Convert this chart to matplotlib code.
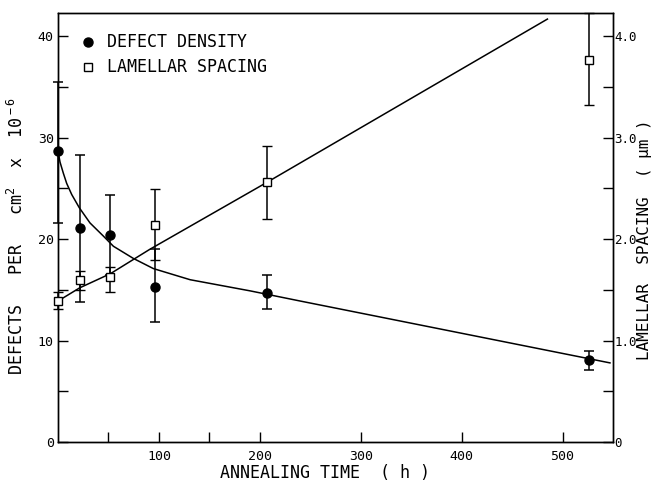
import matplotlib
matplotlib.use("Agg")
import matplotlib.pyplot as plt
from matplotlib.ticker import MultipleLocator, FixedLocator

plt.rcParams['font.family'] = ['DejaVu Sans Mono', 'DejaVu Sans']
plt.rcParams['mathtext.fontset'] = 'custom'
plt.rcParams['mathtext.rm'] = 'DejaVu Sans Mono'
plt.rcParams['mathtext.it'] = 'DejaVu Sans Mono'

# Defect density (left axis, x10^6 per cm^2)
defect_time = [0, 21.5, 52, 96, 207, 526]
defect_val = [28.7, 21.1, 20.4, 15.3, 14.7, 8.1]
defect_lo = [21.6, 13.8, 16.5, 11.8, 13.1, 7.1]
defect_hi = [35.5, 28.3, 24.4, 19.0, 16.5, 9.0]

# Lamellar spacing (right axis, um)
lam_time = [0, 21.5, 52, 96, 207, 526]
lam_val = [1.39, 1.60, 1.63, 2.14, 2.56, 3.77]
lam_lo = [1.31, 1.50, 1.48, 1.79, 2.20, 3.32]
lam_hi = [1.48, 1.69, 1.73, 2.49, 2.92, 4.23]

# Hand-drawn fit curves
defect_fit_t = [0, 2, 5.3, 8.6, 13.6, 21.1, 31.7, 45, 54.9, 74.7, 94.5, 121, 131, 190.5, 240, 547]
defect_fit_y = [28.7, 27.6, 26.5, 25.5, 24.4, 23.1, 21.6, 20.3, 19.3, 18.1, 17.1, 16.3, 16.0, 14.9, 13.9, 7.8]
lam_fit_t = [0, 21.5, 52, 91, 207, 485]
lam_fit_y = [1.39, 1.52, 1.66, 1.90, 2.56, 4.17]

x_ticks = [100, 200, 300, 400, 500]
left_ticks = [0, 10, 20, 30, 40]
right_ticks = [0, 1.0, 2.0, 3.0, 4.0]
right_labels = ['0', '1.0', '2.0', '3.0', '4.0']

fig = plt.figure(figsize=(6.57, 4.82), dpi=100)
ax = fig.add_axes([58/657, 40/482, 555/657, 429/482])
ax2 = ax.twinx()

ax.set_xlim(0, 550)
ax.set_ylim(0, 42.3)
ax2.set_ylim(0, 4.23)

lw = 1.1
ax.plot(defect_fit_t, defect_fit_y, color='black', lw=lw, zorder=2)
ax2.plot(lam_fit_t, lam_fit_y, color='black', lw=lw, zorder=2)

yerr_d = [[v - l for v, l in zip(defect_val, defect_lo)], [h - v for v, h in zip(defect_val, defect_hi)]]
ax.errorbar(defect_time, defect_val, yerr=yerr_d, fmt='o', color='black', ms=6.5,
            capsize=3.5, elinewidth=1.1, capthick=1.1, zorder=3, clip_on=False)
yerr_l = [[v - l for v, l in zip(lam_val, lam_lo)], [h - v for v, h in zip(lam_val, lam_hi)]]
ax2.errorbar(lam_time, lam_val, yerr=yerr_l, fmt='s', color='black', mfc='white', mec='black',
             mew=1.0, ms=6, capsize=3.5, elinewidth=1.1, capthick=1.1, zorder=4, clip_on=False)

# ticks
ax.xaxis.set_major_locator(FixedLocator(x_ticks))
ax.xaxis.set_minor_locator(FixedLocator([50, 150]))
ax.yaxis.set_major_locator(FixedLocator(left_ticks))
ax.yaxis.set_minor_locator(MultipleLocator(5))
ax2.yaxis.set_major_locator(FixedLocator(right_ticks))
ax2.yaxis.set_minor_locator(MultipleLocator(0.5))
ax2.set_yticklabels(right_labels)

for a in (ax, ax2):
    a.tick_params(which='both', direction='in', length=7, width=1.0, labelsize=9.5)
ax.tick_params(axis='x', which='both', top=False, pad=6)
ax.tick_params(axis='y', which='both', pad=3)
ax2.tick_params(axis='y', which='both', pad=1, labelsize=9)

for s in ax.spines.values():
    s.set_linewidth(1.0)
for s in ax2.spines.values():
    s.set_linewidth(1.0)

ax.set_xlabel('ANNEALING TIME  ( h )', fontsize=12)
ax.xaxis.set_label_coords(0.481, -0.051)
ax.set_ylabel(r'DEFECTS   PER   cm$^2$  x  10$^{\,-6}$', fontsize=12)
ax.yaxis.set_label_coords(-0.056, 0.48)
ax2.set_ylabel('LAMELLAR  SPACING  ( μm )', fontsize=11.5, rotation=90)
ax2.yaxis.set_label_coords(1.043, 0.471)

# legend
ax.plot([30], [39.4], 'o', color='black', ms=6.5)
ax.text(48.5, 39.4, 'DEFECT DENSITY', fontsize=12, va='center')
ax.plot([30], [37.0], 's', color='black', mfc='white', ms=5.5)
ax.text(48.5, 37.0, 'LAMELLAR SPACING', fontsize=12, va='center')

fig.savefig('out.png', dpi=100)
